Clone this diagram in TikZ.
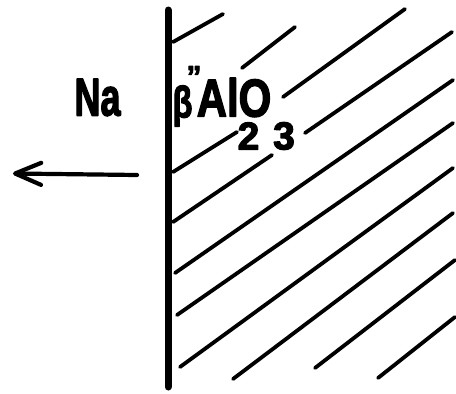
\documentclass[tikz,border=0pt]{standalone}
\usepackage{fontspec}
\setmainfont{Liberation Sans}
\newfontfamily\heavyfont{Liberation Sans Bold}[FakeBold=3]
\usetikzlibrary{arrows.meta}
\begin{document}
\begin{tikzpicture}[x=1pt,y=-1pt,line cap=round,line join=round,
  hatch/.style={line width=3.8pt},
  wall/.style={line width=7pt},
  arrowline/.style={line width=4.2pt,-{Straight Barb[length=26pt,width=22pt,round]}},
  bigtxt/.style={inner sep=0pt,font=\heavyfont\fontsize{53}{53}\selectfont},
  midtxt/.style={inner sep=0pt,font=\heavyfont\fontsize{44}{44}\selectfont},
  qtxt/.style={inner sep=0pt,font=\heavyfont\fontsize{30}{30}\selectfont},
  subtxt/.style={inner sep=0pt,font=\heavyfont\fontsize{39}{39}\selectfont}]
\useasboundingbox (0,0) rectangle (456,394);
% wall
\coordinate (wtop) at (168,10);
\coordinate (wbot) at (168,387);
\draw[wall] (wtop) -- (wbot);
% hatching
\draw[hatch] (173,42) -- (223,14);
\draw[hatch] (242,68) -- (295,27);
\draw[hatch] (283,97) -- (405,9);
\draw[hatch] (305,133) -- (452,32);
\draw[hatch] (173,172) -- (237,132);
\draw[hatch] (173,222) -- (272,155);
\draw[hatch] (175,273) -- (453,80);
\draw[hatch] (177,315) -- (453,123);
\draw[hatch] (180,367) -- (453,168);
\draw[hatch] (233,379) -- (453,213);
\draw[hatch] (315,368) -- (455,260);
\draw[hatch] (378,378) -- (455,317);
% labels
\node[bigtxt] (na) at (97.5,97.5) {\scalebox{0.68}[1]{Na}};
\node[midtxt] (beta) at (182.5,106) {\scalebox{0.74}[1]{β}};
\node[qtxt,anchor=north] (dprime) at (194,66) {”};
\node[bigtxt] (alo) at (234,97.5) {\scalebox{0.79}[1]{AlO}};
\node[subtxt] (two) at (248.5,136) {2};
\node[subtxt] (three) at (284,136) {3};
% arrow
\coordinate (arrS) at (137,175);
\coordinate (arrT) at (13,173.5);
\draw[arrowline] (arrS) -- (arrT);
\end{tikzpicture}
\end{document}
